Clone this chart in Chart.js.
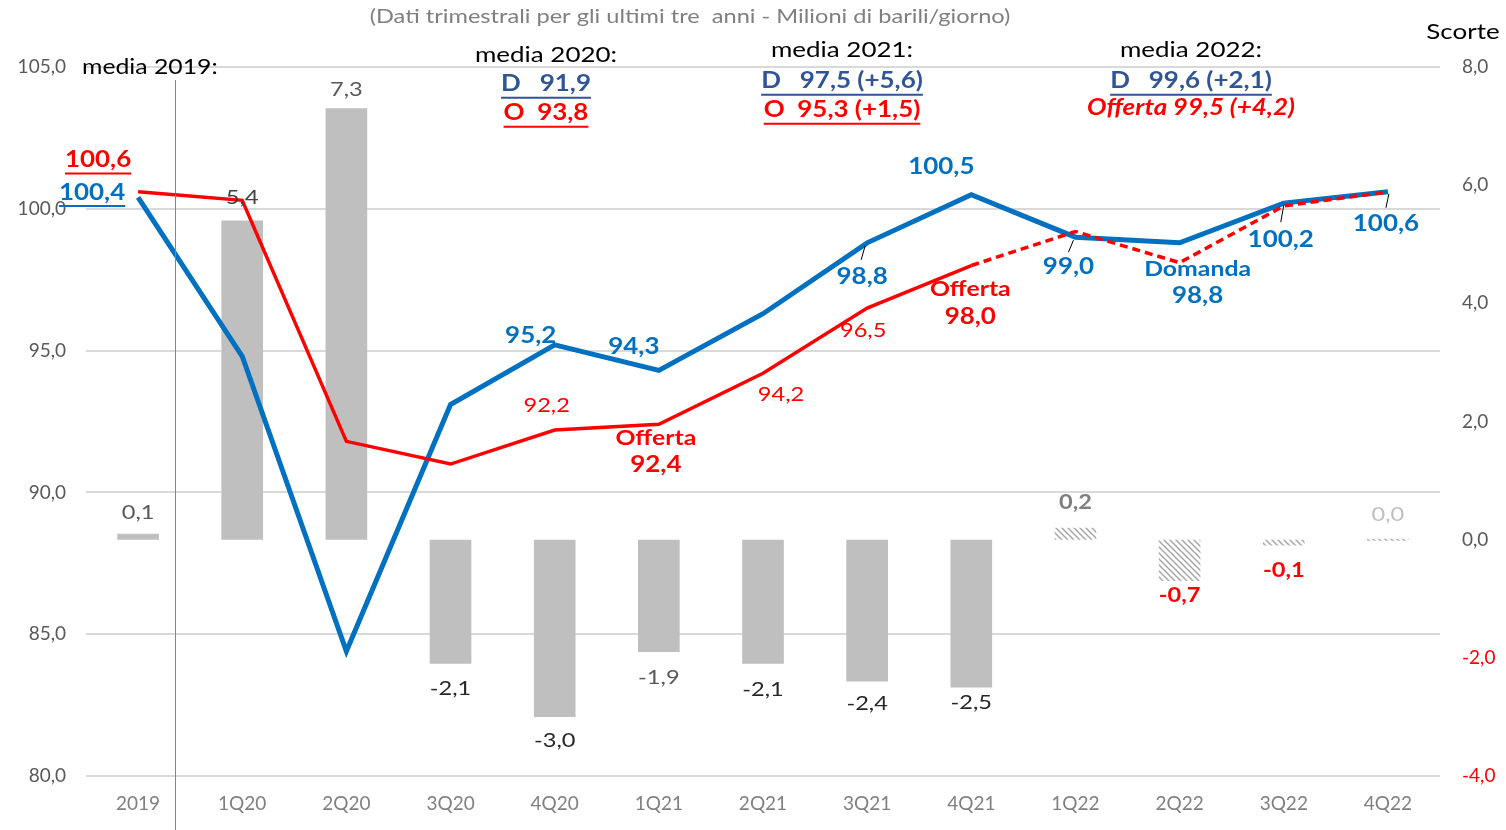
<!DOCTYPE html>
<html>
<head>
<meta charset="utf-8">
<script src="https://cdn.jsdelivr.net/npm/chart.js@4/dist/chart.umd.min.js"></script>
<style>
  html, body { margin: 0; padding: 0; background: #fff; }
  canvas { display: block; }
</style>
</head>
<body>
<canvas id="chart" width="1506" height="830"></canvas>
<script>
// Data
const categories = ['2019', '1Q20', '2Q20', '3Q20', '4Q20', '1Q21', '2Q21', '3Q21', '4Q21', '1Q22', '2Q22', '3Q22', '4Q22'];
const domanda = [100.4, 94.8, 84.4, 93.1, 95.2, 94.3, 96.3, 98.8, 100.5, 99.0, 98.8, 100.2, 100.6];
const offerta = [100.6, 100.3, 91.8, 91.0, 92.2, 92.4, 94.2, 96.5, 98.0, 99.2, 98.1, 100.1, 100.6];
const scorte = [0.1, 5.4, 7.3, -2.1, -3.0, -1.9, -2.1, -2.4, -2.5, 0.2, -0.7, -0.1, 0.0];
const leftTicks = [80, 85, 90, 95, 100, 105];
const rightTicks = [-4, -2, 0, 2, 4, 6, 8];
const lastActual = 8; // 4Q21: after this, forecast (dashed / hatched)

const FONT = 'Lato, "Open Sans", sans-serif';
const BLUE = '#0070C0';
const DARKBLUE = '#2F5597';
const RED = '#FF0000';
const STRETCH = 1.18; // source text is wide

const fmt = v => Number(v).toFixed(1).replace('.', ',');

// label placement (offsets from the data point, px)
const domandaLabels = [
    { i: 0, dx: -46, dy: -5, underline: true },
    { i: 4, dx: -24, dy: -9 },
    { i: 5, dx: -25, dy: -24 },
    { i: 7, dx: -5, dy: 34, leader: [-2, 3, -6, 17] },
    { i: 8, dx: -30, dy: -28 },
    { i: 9, dx: -7, dy: 30, leader: [-2, 3, -7, 15] },
    { i: 10, dx: 18, dy: 53, title: 'Domanda' },
    { i: 11, dx: -3, dy: 37, leader: [0, 2, -3, 19] },
    { i: 12, dx: -2, dy: 32, leader: [1, 2, -2, 16] }
];
const offertaLabels = [
    { i: 0, dx: -40, dy: -32, bold: true, underline: true },
    { i: 4, dx: -8, dy: -24 },
    { i: 5, dx: -3, dy: 41, bold: true, title: 'Offerta' },
    { i: 6, dx: 18, dy: 21 },
    { i: 7, dx: -4, dy: 22 },
    { i: 8, dx: -1, dy: 51, bold: true, title: 'Offerta' }
];
const scorteLabelDy = [-21, -23, -19, 25, 24, 26, 26, 22, 15, -25, 15, 25, -25];
const scorteLabelColor = ['#595959', '#404040', '#595959', '#262626', '#262626', '#595959', '#262626', '#262626', '#262626', '#7F7F7F', RED, RED, '#BFBFBF'];
const scorteLabelBold = [false, false, false, false, false, false, false, false, false, true, true, true, false];

// diagonal hatch for forecast bars
function makeHatch(color) {
    const c = document.createElement('canvas');
    c.width = 6; c.height = 6;
    const g = c.getContext('2d');
    g.strokeStyle = color;
    g.lineWidth = 1.5;
    g.beginPath();
    g.moveTo(0, 0); g.lineTo(6, 6);
    g.moveTo(-1, 5); g.lineTo(1, 7);
    g.moveTo(5, -1); g.lineTo(7, 1);
    g.stroke();
    return g.createPattern(c, 'repeat');
}

function drawText(ctx, text, x, y, opts) {
    ctx.save();
    ctx.translate(x, y);
    ctx.scale(STRETCH, 1);
    ctx.font = (opts.italic ? 'italic ' : '') + (opts.bold ? 'bold ' : '') + opts.size + 'px ' + FONT;
    ctx.fillStyle = opts.color;
    ctx.textAlign = opts.align || 'center';
    ctx.textBaseline = 'middle';
    ctx.fillText(text, 0, 0);
    if (opts.underline) {
        const w = ctx.measureText(text).width;
        const x0 = ctx.textAlign === 'left' ? 0 : -w / 2;
        ctx.strokeStyle = opts.color;
        ctx.lineWidth = 2;
        ctx.beginPath();
        ctx.moveTo(x0, opts.size * 0.62);
        ctx.lineTo(x0 + w, opts.size * 0.62);
        ctx.stroke();
    }
    ctx.restore();
}

const annotations = {
    id: 'annotations',
    afterDatasetsDraw(chart) {
        const ctx = chart.ctx;
        const x = chart.scales.x;
        const y = chart.scales.y;
        const y2 = chart.scales.y2;

        // vertical separator after 2019
        const sx = x.getPixelForValue(0) + 0.35 * (x.getPixelForValue(1) - x.getPixelForValue(0));
        ctx.save();
        ctx.strokeStyle = '#4A90E2';
        ctx.lineWidth = 1;
        ctx.beginPath();
        ctx.moveTo(Math.round(sx) + 0.5, 80);
        ctx.lineTo(Math.round(sx) + 0.5, chart.height);
        ctx.stroke();
        ctx.restore();

        // headers
        drawText(ctx, '(Dati trimestrali per gli ultimi tre  anni - Milioni di barili/giorno)', 690, 17, { size: 20, color: '#7F7F7F' });
        drawText(ctx, 'Scorte', 1463, 32, { size: 22, color: '#000' });
        drawText(ctx, 'media 2019:', 82, 67, { size: 21, color: '#000', align: 'left' });

        drawText(ctx, 'media 2020:', 546, 55, { size: 22, color: '#000' });
        drawText(ctx, 'D   91,9', 546, 84, { size: 22, color: DARKBLUE, bold: true, underline: true });
        drawText(ctx, 'O  93,8', 546, 113, { size: 22, color: RED, bold: true, underline: true });

        drawText(ctx, 'media 2021:', 842, 50, { size: 22, color: '#000' });
        drawText(ctx, 'D   97,5 (+5,6)', 842, 81, { size: 22, color: DARKBLUE, bold: true, underline: true });
        drawText(ctx, 'O  95,3 (+1,5)', 842, 110, { size: 22, color: RED, bold: true, underline: true });

        drawText(ctx, 'media 2022:', 1191, 50, { size: 22, color: '#000' });
        drawText(ctx, 'D   99,6 (+2,1)', 1191, 81, { size: 22, color: DARKBLUE, bold: true, underline: true });
        drawText(ctx, 'Offerta 99,5 (+4,2)', 1191, 108, { size: 22, color: RED, bold: true, italic: true });

        // scorte labels
        scorte.forEach((v, i) => {
            const px = x.getPixelForValue(i);
            const py = y2.getPixelForValue(v);
            drawText(ctx, fmt(v), px, py + scorteLabelDy[i], { size: 20, color: scorteLabelColor[i], bold: scorteLabelBold[i] });
        });

        // line labels
        const lineLabels = (list, data, color, boldDefault) => {
            list.forEach(l => {
                const px = x.getPixelForValue(l.i);
                const py = y.getPixelForValue(data[l.i]);
                const bold = l.bold !== undefined ? l.bold : boldDefault;
                if (l.leader) {
                    ctx.save();
                    ctx.strokeStyle = '#000';
                    ctx.lineWidth = 1;
                    ctx.beginPath();
                    ctx.moveTo(px + l.leader[0], py + l.leader[1]);
                    ctx.lineTo(px + l.leader[2], py + l.leader[3]);
                    ctx.stroke();
                    ctx.restore();
                }
                if (l.title) {
                    drawText(ctx, l.title, px + l.dx, py + l.dy - 27, { size: 21, color: color, bold: bold });
                }
                drawText(ctx, fmt(data[l.i]), px + l.dx, py + l.dy, { size: bold ? 22 : 20, color: color, bold: bold, underline: l.underline });
            });
        };
        lineLabels(domandaLabels, domanda, BLUE, true);
        lineLabels(offertaLabels, offerta, RED, false);
    }
};

const ctx = document.getElementById('chart').getContext('2d');
const hatch = makeHatch('#A6A6A6');

new Chart(ctx, {
    data: {
        labels: categories,
        datasets: [
            {
                type: 'line',
                label: 'Offerta',
                data: offerta,
                yAxisID: 'y',
                borderColor: RED,
                borderWidth: 3.5,
                pointRadius: 0,
                tension: 0,
                order: 0,
                segment: {
                    borderDash: c => c.p0DataIndex >= lastActual ? [8, 5] : undefined
                }
            },
            {
                type: 'line',
                label: 'Domanda',
                data: domanda,
                yAxisID: 'y',
                borderColor: BLUE,
                borderWidth: 5,
                pointRadius: 0,
                tension: 0,
                order: 1
            },
            {
                type: 'bar',
                label: 'Scorte',
                data: scorte,
                yAxisID: 'y2',
                backgroundColor: c => c.dataIndex > lastActual ? hatch : '#BFBFBF',
                barPercentage: 0.8,
                categoryPercentage: 0.5,
                minBarLength: 2,
                order: 2
            }
        ]
    },
    options: {
        responsive: false,
        animation: false,
        layout: { padding: { top: 67, left: 0, right: 0, bottom: 0 } },
        plugins: {
            legend: { display: false },
            tooltip: { enabled: false }
        },
        scales: {
            x: {
                grid: { display: false, drawTicks: false },
                border: { display: false },
                ticks: { color: '#7F7F7F', font: { family: FONT, size: 19 }, padding: 16 },
                afterFit: s => { s.height = 54; }
            },
            y: {
                position: 'left',
                min: leftTicks[0],
                max: leftTicks[leftTicks.length - 1],
                afterBuildTicks: s => { s.ticks = leftTicks.map(v => ({ value: v })); },
                ticks: { callback: fmt, color: '#595959', padding: 20, font: { family: FONT, size: 19 } },
                grid: { color: '#D9D9D9', lineWidth: 2, drawTicks: false },
                border: { display: false },
                afterFit: s => { s.width = 86; }
            },
            y2: {
                position: 'right',
                min: rightTicks[0],
                max: rightTicks[rightTicks.length - 1],
                afterBuildTicks: s => { s.ticks = rightTicks.map(v => ({ value: v })); },
                ticks: {
                    callback: fmt,
                    color: c => c.tick && c.tick.value < 0 ? RED : '#595959',
                    padding: 22,
                    font: { family: FONT, size: 19 }
                },
                grid: { display: false, drawTicks: false },
                border: { display: false },
                afterFit: s => { s.width = 66; }
            }
        }
    },
    plugins: [annotations]
});
</script>
</body>
</html>
